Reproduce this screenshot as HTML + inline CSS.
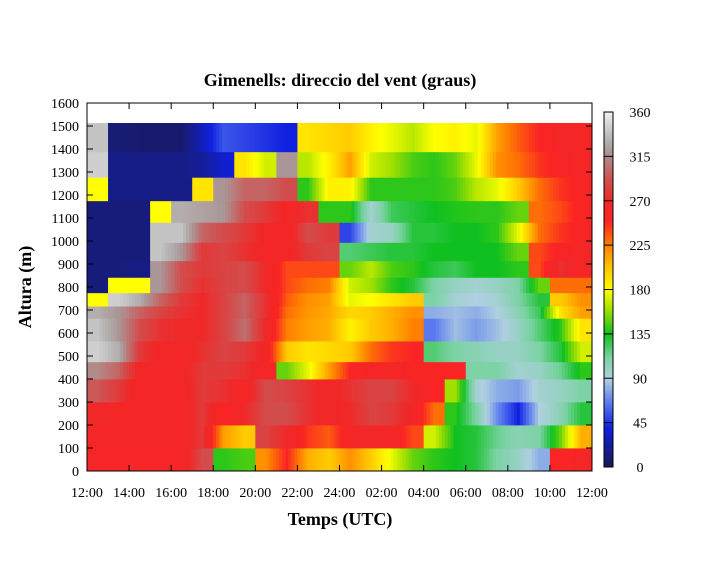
<!DOCTYPE html>
<html><head><meta charset="utf-8"><style>
body{margin:0;background:#fff;}
svg text{font-family:"Liberation Serif",serif;}
</style></head><body>
<svg id="chart" width="705" height="576" xmlns="http://www.w3.org/2000/svg">
<text x="340" y="86" text-anchor="middle" font-size="18" font-weight="bold">Gimenells: direccio del vent (graus)</text>
<text x="340" y="525" text-anchor="middle" font-size="18" font-weight="bold">Temps (UTC)</text>
<text transform="translate(31,287) rotate(-90)" text-anchor="middle" font-size="18" font-weight="bold">Altura (m)</text>
<g id="cells"></g>
<g id="axes"></g>
<g id="cbar"></g>
</svg>
<script>
// hours from 12:00 (index 0) to 11:00 next day (index 23); bands bottom to top
const hours = [12,13,14,15,16,17,18,19,20,21,22,23,24,25,26,27,28,29,30,31,32,33,34,35];
const bandEdges = [0,100,200,300,400,475,565,664,717,775,842,914,994,1081,1175,1277,1388,1513];
const dir0  = [258,258,258,258,258,290,140,145,220,250,210,200,220,200,175,150,140,135,130,110,100,80,250,260];
const dir1  = [260,260,260,260,260,280,215,200,285,270,245,235,260,265,260,240,170,135,130,115,105,110,150,210];
const dir2  = [270,260,260,260,260,280,250,270,290,290,275,265,270,285,280,265,230,140,110,70,40,90,105,130];
const dir3  = [295,280,262,262,262,280,275,260,290,285,275,265,275,285,285,270,250,160,95,80,75,95,100,110];
const dir4  = [315,300,265,262,265,280,280,275,260,150,175,215,250,260,260,255,255,250,110,110,95,100,115,140];
const dir5  = [345,330,280,265,265,275,285,280,265,200,190,195,200,230,245,250,120,110,105,100,100,110,130,170];
const dir6  = [340,320,290,275,270,270,285,305,270,225,215,210,185,200,210,225,65,85,75,85,100,120,140,190];
const dir7  = [330,320,300,285,275,270,285,300,275,230,218,212,195,200,210,220,80,85,80,90,105,125,190,215];
const dir8  = [180,345,330,300,280,270,285,300,275,235,220,215,175,180,190,200,110,95,90,95,110,130,200,220];
const dir9  = [12,180,180,320,290,275,285,290,270,240,230,225,170,160,140,130,110,100,95,100,110,150,230,230];
const dir10 = [12,12,15,320,290,280,285,290,270,240,240,240,150,165,145,140,130,125,135,135,140,240,275,260];
const dir11 = [12,12,12,340,320,280,285,275,265,265,280,285,120,125,130,130,135,135,135,135,150,240,255,260];
const dir12 = [12,12,12,340,340,300,290,280,265,260,290,280,50,95,100,130,130,135,135,140,175,230,245,255];
const dir13 = [12,12,12,180,330,325,320,290,280,265,275,140,140,95,125,130,135,138,140,140,150,230,240,255];
const dir14 = [180,15,15,15,15,190,320,300,300,290,140,185,185,140,140,140,140,145,165,175,200,230,245,255];
const dir15 = [345,15,15,15,15,20,35,190,170,320,165,185,215,170,160,145,140,150,175,220,230,245,255,260];
const dir16 = [340,10,8,8,8,30,55,50,45,40,190,195,200,185,175,165,180,185,175,215,235,250,260,260];
const rows = [dir0,dir1,dir2,dir3,dir4,dir5,dir6,dir7,dir8,dir9,dir10,dir11,dir12,dir13,dir14,dir15,dir16];
const yTicks = [0,100,200,300,400,500,600,700,800,900,1000,1100,1200,1300,1400,1500,1600];
const xTickHours = [12,14,16,18,20,22,24,26,28,30,32,34,36];
const xTickLabels = ["12:00","14:00","16:00","18:00","20:00","22:00","24:00","02:00","04:00","06:00","08:00","10:00","12:00"];
const cbTicks = [0,45,90,135,180,225,270,315,360];

const X0=87,X1=592,Y0=471,Y1=103;
const xs = h => X0 + (h-12)*(X1-X0)/24;
const ys = m => Y0 - m*(Y0-Y1)/1600;
const NS="http://www.w3.org/2000/svg";
const stops=[[0,[26,26,80]],[40,[16,32,224]],[67,[96,128,240]],[90,[176,208,224]],[112,[120,210,160]],[135,[16,192,32]],[160,[160,224,0]],[180,[255,255,0]],[205,[255,190,0]],[225,[255,128,0]],[250,[250,36,36]],[270,[240,40,40]],[292,[208,80,80]],[320,[170,150,150]],[335,[185,185,185]],[360,[240,240,240]]];
function color(v){
  v=Math.max(0,Math.min(360,v));
  for(let i=1;i<stops.length;i++){
    if(v<=stops[i][0]){
      const a=stops[i-1],b=stops[i],t=(v-a[0])/(b[0]-a[0]);
      const c=a[1].map((q,k)=>Math.round(q+(b[1][k]-q)*t));
      return `rgb(${c[0]},${c[1]},${c[2]})`;
    }
  }
  return "rgb(240,240,240)";
}
function mk(tag,attrs,parent){const e=document.createElementNS(NS,tag);for(const k in attrs)e.setAttribute(k,attrs[k]);parent.appendChild(e);return e;}

const cells=document.getElementById('cells');
const SUB=7;
rows.forEach((row,ri)=>{
  const yb=ys(bandEdges[ri]), yt=ys(bandEdges[ri+1]);
  row.forEach((v,ci)=>{
    for(let s=0;s<SUB;s++){
      const f=(s+0.5)/SUB;
      let val=v;
      if(f<0.5 && ci>0 && Math.abs(row[ci-1]-v)<70) val=v+(row[ci-1]-v)*(0.5-f);
      if(f>0.5 && ci<row.length-1 && Math.abs(row[ci+1]-v)<70) val=v+(row[ci+1]-v)*(f-0.5);
      const xa=xs(hours[ci]+s/SUB), xb=xs(hours[ci]+(s+1)/SUB);
      const r=mk('rect',{x:xa.toFixed(2),y:yt.toFixed(2),width:(xb-xa+0.4).toFixed(2),height:(yb-yt+0.4).toFixed(2),fill:color(val)},cells);
      
      
    }
  });
});

const axes=document.getElementById('axes');
const frame=mk('rect',{x:X0,y:Y1,width:X1-X0,height:Y0-Y1,fill:'none',stroke:'#000','stroke-width':1},axes);


yTicks.forEach(t=>{
  const y=ys(t);
  mk('line',{x1:X0,x2:X0+6,y1:y,y2:y,stroke:'#000'},axes);
  mk('line',{x1:X1,x2:X1-6,y1:y,y2:y,stroke:'#000'},axes);
  const tx=mk('text',{x:X0-8,y:y+5,'text-anchor':'end','font-size':14},axes);
  tx.textContent=t;
  
  
});
xTickHours.forEach((h,i)=>{
  const x=xs(h);
  mk('line',{x1:x,x2:x,y1:Y0,y2:Y0-6,stroke:'#000'},axes);
  mk('line',{x1:x,x2:x,y1:Y1,y2:Y1+6,stroke:'#000'},axes);
  const tx=mk('text',{x:x,y:Y0+26,'text-anchor':'middle','font-size':14},axes);
  tx.textContent=xTickLabels[i];
  
  
});

const cb=document.getElementById('cbar');
const CB0=467,CB1=112,CX=604,CW=9;
for(let v=0;v<360;v+=2){
  const ya=CB0-(v+2)*(CB0-CB1)/360, yb=CB0-v*(CB0-CB1)/360;
  mk('rect',{x:CX,y:ya,width:CW,height:yb-ya+0.5,fill:color(v+1)},cb);
}
const cbf=mk('rect',{x:CX,y:CB1,width:CW,height:CB0-CB1,fill:'none',stroke:'#000'},cb);


cbTicks.forEach(t=>{
  const y=CB0-t*(CB0-CB1)/360;
  mk('line',{x1:CX,x2:CX+CW,y1:y,y2:y,stroke:'#000'},cb);
  const tx=mk('text',{x:CX+CW+27,y:y+5,'text-anchor':'middle','font-size':14},cb);
  tx.textContent=t;
  
  
});
</script>
</body></html>
